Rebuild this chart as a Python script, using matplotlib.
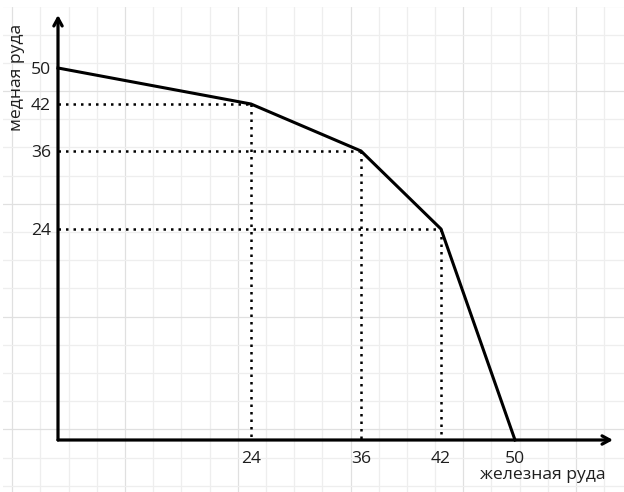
import numpy as np
import matplotlib
matplotlib.use('Agg')
import matplotlib.pyplot as plt

# production possibilities: iron ore vs copper ore
iron = [0, 24, 36, 42, 50]
copper = [50, 42, 36, 24, 0]
x_ticks = [24, 36, 42, 50]
y_ticks = [24, 36, 42, 50]
x_label = 'железная руда'
y_label = 'медная руда'

# the original is drawn by hand, so the axes are not evenly spaced:
# pixel position of each tick value on the 624x492 canvas
X_KNOTS, X_PIX = [0, 24, 36, 42, 50], [58, 251, 361, 441, 515]
Y_KNOTS, Y_PIX = [0, 24, 36, 42, 50], [440, 229, 151, 104, 68]

W, H = 624, 492
plt.rcParams['font.family'] = ['Open Sans', 'DejaVu Sans']
TXT = '#1e1e1e'
FS = 12.6


def hand_scale(knots, pix, flip=False):
	k = np.asarray(knots, float)
	p = np.asarray(pix, float)
	if flip:
		p = -p
	s0 = (p[1] - p[0]) / (k[1] - k[0])
	s1 = (p[-1] - p[-2]) / (k[-1] - k[-2])
	k = np.r_[k[0] - 1000, k, k[-1] + 1000]
	p = np.r_[p[0] - 1000 * s0, p, p[-1] + 1000 * s1]
	return (lambda v: np.interp(v, k, p)), (lambda v: np.interp(v, p, k))


fig = plt.figure(figsize=(W / 100, H / 100), dpi=100)

# squared paper in the background
bg = fig.add_axes([3 / W, 0, (W - 3) / W, (H - 7) / H])
bg.set_xlim(3, W)
bg.set_ylim(H, 7)
bg.axis('off')
for i, gx in enumerate(np.arange(12.25, W, 28.19)):
	major = i % 4 == 0
	bg.axvline(gx, color='#e0e0e0' if major else '#eeeeee', lw=0.9, zorder=0)
for i, gy in enumerate(np.arange(6.4, H, 28.2)):
	major = i % 4 == 3
	bg.axhline(gy, color='#e0e0e0' if major else '#eeeeee', lw=0.9, zorder=0)

ax = fig.add_axes([0, 0, 1, 1])
ax.patch.set_alpha(0)
fx, ix = hand_scale(X_KNOTS, X_PIX)
fy, iy = hand_scale(Y_KNOTS, Y_PIX, flip=True)
ax.set_xscale('function', functions=(fx, ix))
ax.set_yscale('function', functions=(fy, iy))
ax.set_xlim(ix(0), ix(W))
ax.set_ylim(iy(-H), iy(0))

# dotted guides from each kink to both axes
for xv, yv in zip(iron[1:-1], copper[1:-1]):
	ax.plot([0, xv], [yv, yv], color='black', lw=1.8, ls=(0, (1, 2.0)))
	ax.plot([xv, xv], [yv, 0], color='black', lw=1.8, ls=(0, (1, 2.0)))

ax.plot(iron, copper, color='black', lw=2.2, solid_joinstyle='miter', zorder=3)

# axes with arrow heads
arrow = dict(arrowstyle='->,head_length=0.55,head_width=0.3', lw=2.3,
	color='black', shrinkA=0, shrinkB=0)
ax.annotate('', xy=(0, iy(-15)), xytext=(0, 0), arrowprops=arrow)
ax.annotate('', xy=(ix(613), 0), xytext=(0, 0), arrowprops=arrow)

for s in ax.spines.values():
	s.set_visible(False)
ax.spines['bottom'].set_position(('data', 0))
ax.spines['left'].set_position(('data', 0))
ax.set_xticks(x_ticks)
ax.set_xticklabels([str(v) for v in x_ticks])
ax.set_yticks(y_ticks)
ax.set_yticklabels([str(v) for v in y_ticks])
ax.tick_params(axis='x', length=0, pad=8, labelsize=FS, labelcolor=TXT)
ax.tick_params(axis='y', length=0, pad=5, labelsize=FS, labelcolor=TXT)

fig.text(543 / W, 1 - 475 / H, x_label, ha='center', va='center', fontsize=FS, color=TXT)
fig.text(17 / W, 1 - 77 / H, y_label, ha='center', va='center', rotation=90,
	fontsize=FS, color=TXT)

fig.savefig('out.png', dpi=100)
